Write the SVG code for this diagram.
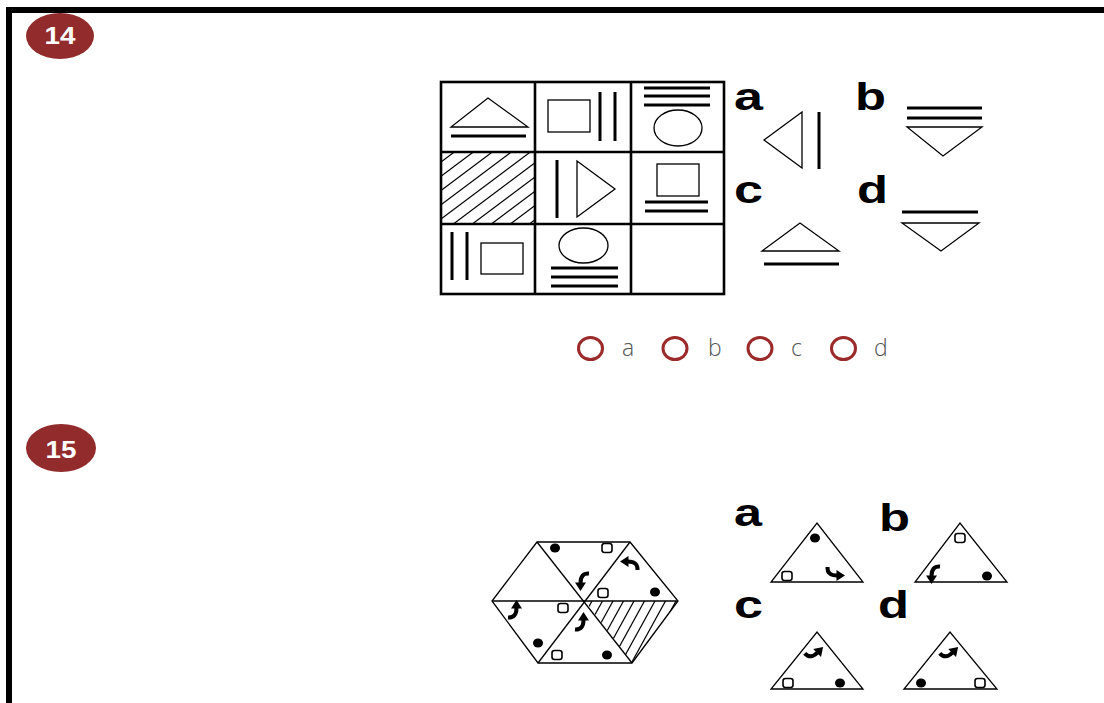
<svg xmlns="http://www.w3.org/2000/svg" xmlns:xlink="http://www.w3.org/1999/xlink" width="1104" height="703" viewBox="0 0 1104 703">
<style>
.thin{fill:none;stroke:#000;stroke-width:1.3}
.thick{fill:none;stroke:#000;stroke-width:3}
.grid{fill:none;stroke:#000;stroke-width:2.6}
.hatch{stroke:#000;stroke-width:1.2}
.lbl{font-family:"Liberation Sans",Arial,sans-serif;font-weight:bold;font-size:39px;fill:#000}
.badge{fill:#922c2c}
.btxt{font-family:"Liberation Sans",Arial,sans-serif;font-weight:bold;font-size:23px;fill:#fff;text-anchor:middle}
.radio{fill:none;stroke:#9b2a2a;stroke-width:3}
.rtxt{font-family:"Open Sans","Liberation Sans",sans-serif;font-weight:300;font-size:23px;fill:#555}
</style>
<defs>
<g id="arr">
<path d="M-7,7.5 Q1.5,8 1.5,-2" fill="none" stroke="#000" stroke-width="4"/>
<polygon points="-4,-1.5 7,-1.5 1.5,-10" fill="#000"/>
</g>
<ellipse id="dot" cx="0" cy="0" rx="5" ry="4.5" fill="#000"/>
<rect id="sq" x="-5" y="-4.5" width="10" height="9" rx="2.5" fill="#fff" stroke="#000" stroke-width="1.6"/>
<clipPath id="cellclip"><rect x="441" y="152" width="94" height="72"/></clipPath>
<clipPath id="hexclip"><polygon points="585,601 678,601 632,663"/></clipPath>
</defs>
<rect x="0" y="0" width="1104" height="703" fill="#fff"/>
<g id="frame">
<line x1="6" y1="10" x2="1104" y2="10" stroke="#000" stroke-width="6"/>
<line x1="9" y1="7" x2="9" y2="703" stroke="#000" stroke-width="6"/>
</g>
<g id="badge14">
<ellipse class="badge" cx="60" cy="36" rx="34" ry="23"/>
<text class="btxt" x="60" y="44" textLength="31" lengthAdjust="spacingAndGlyphs">14</text>
</g>
<g id="grid14">
<rect class="grid" x="441" y="82" width="283" height="212"/>
<line class="grid" x1="535" y1="82" x2="535" y2="294"/>
<line class="grid" x1="631" y1="82" x2="631" y2="294"/>
<line class="grid" x1="441" y1="152" x2="724" y2="152"/>
<line class="grid" x1="441" y1="224" x2="724" y2="224"/>
<polygon class="thin" points="451,127 528,127 488,98"/>
<line class="thick" x1="451" y1="136" x2="526" y2="136"/>
<rect class="thin" x="548" y="100" width="42" height="32"/>
<line class="thick" x1="600" y1="92" x2="600" y2="141"/>
<line class="thick" x1="615" y1="92" x2="615" y2="141"/>
<line class="thick" x1="644" y1="88" x2="710" y2="88"/>
<line class="thick" x1="644" y1="96" x2="710" y2="96"/>
<line class="thick" x1="644" y1="105" x2="710" y2="105"/>
<ellipse class="thin" cx="678" cy="128" rx="24" ry="18"/>
<g clip-path="url(#cellclip)">
<line class="hatch" x1="345" y1="234" x2="465" y2="144"/>
<line class="hatch" x1="364" y1="234" x2="484" y2="144"/>
<line class="hatch" x1="383" y1="234" x2="503" y2="144"/>
<line class="hatch" x1="402" y1="234" x2="522" y2="144"/>
<line class="hatch" x1="421" y1="234" x2="541" y2="144"/>
<line class="hatch" x1="440" y1="234" x2="560" y2="144"/>
<line class="hatch" x1="459" y1="234" x2="579" y2="144"/>
<line class="hatch" x1="478" y1="234" x2="598" y2="144"/>
<line class="hatch" x1="497" y1="234" x2="617" y2="144"/>
<line class="hatch" x1="516" y1="234" x2="636" y2="144"/>
</g>
<line class="thick" x1="557" y1="160" x2="557" y2="218"/>
<polygon class="thin" points="577,161 577,217 615,189"/>
<rect class="thin" x="657" y="164" width="42" height="32"/>
<line class="thick" x1="645" y1="202" x2="708" y2="202"/>
<line class="thick" x1="645" y1="211" x2="708" y2="211"/>
<line class="thick" x1="452" y1="232" x2="452" y2="280"/>
<line class="thick" x1="467" y1="232" x2="467" y2="280"/>
<rect class="thin" x="481" y="243" width="42" height="31"/>
<ellipse class="thin" cx="583.5" cy="245.5" rx="24.5" ry="17.5"/>
<line class="thick" x1="551" y1="268" x2="618" y2="268"/>
<line class="thick" x1="551" y1="277" x2="618" y2="277"/>
<line class="thick" x1="551" y1="286" x2="618" y2="286"/>
</g>
<g id="opt14a">
<text class="lbl" x="734" y="110" textLength="29" lengthAdjust="spacingAndGlyphs">a</text>
<polygon class="thin" points="764,140 802,112 802,168"/>
<line class="thick" x1="819" y1="112" x2="819" y2="169"/>
</g>
<g id="opt14b">
<text class="lbl" x="855" y="110" textLength="31" lengthAdjust="spacingAndGlyphs">b</text>
<line class="thick" x1="907" y1="108" x2="982" y2="108"/>
<line class="thick" x1="907" y1="118" x2="982" y2="118"/>
<polygon class="thin" points="907,127 982,127 943,156"/>
</g>
<g id="opt14c">
<text class="lbl" x="734" y="203" textLength="29" lengthAdjust="spacingAndGlyphs">c</text>
<polygon class="thin" points="762,251 839,251 800,223"/>
<line class="thick" x1="764" y1="264" x2="839" y2="264"/>
</g>
<g id="opt14d">
<text class="lbl" x="857" y="203" textLength="31" lengthAdjust="spacingAndGlyphs">d</text>
<line class="thick" x1="902" y1="212" x2="978" y2="212"/>
<polygon class="thin" points="902,223 979,223 941,251"/>
</g>
<g id="radios14">
<ellipse class="radio" cx="590.5" cy="348.5" rx="12" ry="11"/>
<text class="rtxt" x="622" y="356">a</text>
<ellipse class="radio" cx="675" cy="348.5" rx="12" ry="11"/>
<text class="rtxt" x="708" y="356">b</text>
<ellipse class="radio" cx="760" cy="348.5" rx="12" ry="11"/>
<text class="rtxt" x="791" y="356">c</text>
<ellipse class="radio" cx="843.5" cy="348.5" rx="12" ry="11"/>
<text class="rtxt" x="874" y="356">d</text>
</g>
<g id="badge15">
<ellipse class="badge" cx="61" cy="448" rx="35" ry="24"/>
<text class="btxt" x="61" y="458" textLength="31" lengthAdjust="spacingAndGlyphs">15</text>
</g>
<g id="hex15">
<g clip-path="url(#hexclip)">
<line class="hatch" x1="597.5" y1="591" x2="553.5" y2="671"/>
<line class="hatch" x1="608" y1="591" x2="564" y2="671"/>
<line class="hatch" x1="618.5" y1="591" x2="574.5" y2="671"/>
<line class="hatch" x1="629" y1="591" x2="585" y2="671"/>
<line class="hatch" x1="639.5" y1="591" x2="595.5" y2="671"/>
<line class="hatch" x1="650" y1="591" x2="606" y2="671"/>
<line class="hatch" x1="660.5" y1="591" x2="616.5" y2="671"/>
<line class="hatch" x1="671" y1="591" x2="627" y2="671"/>
<line class="hatch" x1="681.5" y1="591" x2="637.5" y2="671"/>
</g>
<polygon class="thin" points="537,542 630,542 678,601 632,663 538,663 492,601"/>
<line class="thin" x1="537" y1="542" x2="632" y2="663"/>
<line class="thin" x1="630" y1="542" x2="538" y2="663"/>
<line class="thin" x1="492" y1="601" x2="678" y2="601"/>
<use href="#dot" x="555" y="548"/>
<use href="#sq" x="607" y="548"/>
<use href="#arr" transform="translate(582,581) rotate(180)"/>
<use href="#arr" transform="translate(630,563) rotate(-90)"/>
<use href="#sq" x="603" y="593"/>
<use href="#dot" x="655" y="592"/>
<use href="#arr" transform="translate(582,622)"/>
<use href="#sq" x="557" y="655"/>
<use href="#dot" x="607" y="655"/>
<use href="#sq" x="563" y="608"/>
<use href="#dot" x="538" y="643"/>
<use href="#arr" transform="translate(515,610)"/>
</g>
<g id="opt15a">
<text class="lbl" x="734" y="526" textLength="28" lengthAdjust="spacingAndGlyphs">a</text>
<polygon class="thin" points="771,582 863,582 817,523"/>
<use href="#dot" x="815" y="538"/>
<use href="#sq" x="787" y="576"/>
<use href="#arr" transform="translate(835,574) rotate(90)"/>
</g>
<g id="opt15b">
<text class="lbl" x="879" y="531" textLength="31" lengthAdjust="spacingAndGlyphs">b</text>
<polygon class="thin" points="915,582 1007,582 960,523"/>
<use href="#sq" x="960" y="538"/>
<use href="#arr" transform="translate(933,574) rotate(180)"/>
<use href="#dot" x="987" y="576"/>
</g>
<g id="opt15c">
<text class="lbl" x="734" y="618" textLength="29" lengthAdjust="spacingAndGlyphs">c</text>
<polygon class="thin" points="771,689 863,689 817,632"/>
<use href="#arr" transform="translate(815,653) rotate(45)"/>
<use href="#sq" x="788" y="683"/>
<use href="#dot" x="840" y="683"/>
</g>
<g id="opt15d">
<text class="lbl" x="878" y="618" textLength="31" lengthAdjust="spacingAndGlyphs">d</text>
<polygon class="thin" points="904,689 997,689 950,632"/>
<use href="#arr" transform="translate(950,653) rotate(45)"/>
<use href="#dot" x="921" y="683"/>
<use href="#sq" x="980" y="683"/>
</g>
<g id="connectors"/>
</svg>
